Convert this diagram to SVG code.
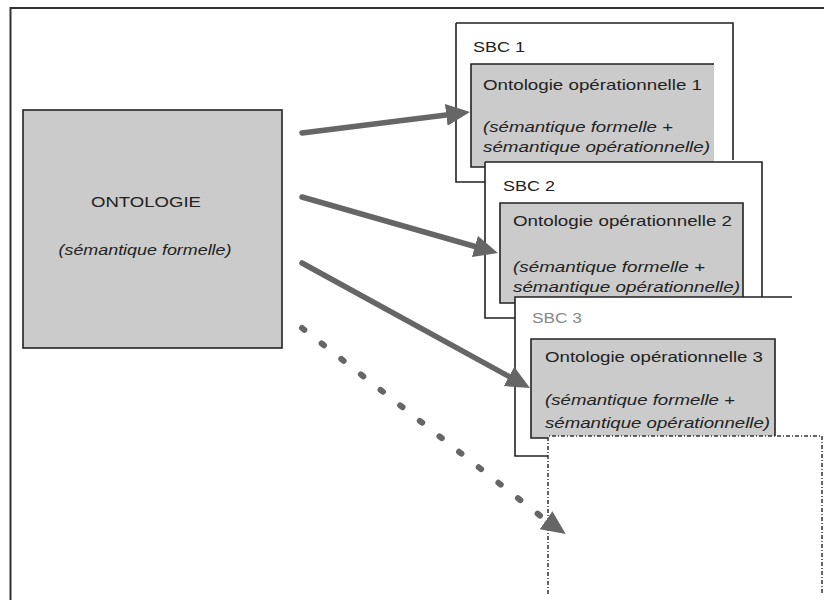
<svg xmlns="http://www.w3.org/2000/svg" width="824" height="600" viewBox="0 0 824 600">
<style>
  .frame{fill:none;stroke:#333;stroke-width:2}
  .box{fill:#fff;stroke:none}
  .edge{fill:none;stroke:#222;stroke-width:1.6}
  .gray{fill:#cbcbcb;stroke:none}
  .t{font-family:"Liberation Sans",Arial,sans-serif;font-size:15px;fill:#222}
  .i{font-style:italic}
  .arrow{fill:none;stroke:#666;stroke-width:5.5;stroke-linecap:round}
  .dots{fill:none;stroke:#666;stroke-width:6;stroke-linecap:round;stroke-dasharray:3 22}
  .dashbox{fill:#fff;stroke:#333;stroke-width:1.5;stroke-dasharray:4 2 1 2}
</style>
<defs>
  <marker id="head" viewBox="0 0 24 22" refX="2" refY="11" markerWidth="24" markerHeight="22" markerUnits="userSpaceOnUse" orient="auto">
    <path d="M0,0 L24,11 L0,22 z" fill="#666"/>
  </marker>
</defs>
<rect width="824" height="600" fill="#fff"/>
<path class="frame" d="M10.5,600 V8 H824"/>

<g id="ontologie">
  <rect x="23" y="110" width="259" height="238" fill="#cbcbcb" stroke="#222" stroke-width="1.6"/>
  <text class="t" x="146" y="207" text-anchor="middle" font-size="14" textLength="110" lengthAdjust="spacingAndGlyphs">ONTOLOGIE</text>
  <text class="t i" x="145" y="255" text-anchor="middle" font-size="14" textLength="173" lengthAdjust="spacingAndGlyphs">(sémantique formelle)</text>
</g>

<g id="sbc1">
  <rect class="box" x="456" y="23" width="277" height="159"/>
  <path class="edge" d="M456,23 H733 V160 M456,23 V182 H485"/>
  <rect class="gray" x="471" y="64" width="243" height="103"/>
  <path class="edge" d="M714,64 H471 V167 H485"/>
  <text class="t" x="473" y="52" textLength="52" lengthAdjust="spacingAndGlyphs">SBC 1</text>
  <text class="t" x="483" y="90" textLength="219" lengthAdjust="spacingAndGlyphs">Ontologie opérationnelle 1</text>
  <text class="t i" x="483" y="132" textLength="190" lengthAdjust="spacingAndGlyphs">(sémantique formelle +</text>
  <text class="t i" x="483" y="152" textLength="227" lengthAdjust="spacingAndGlyphs">sémantique opérationnelle)</text>
</g>

<g id="sbc2">
  <rect class="box" x="485" y="162" width="277" height="156"/>
  <path class="edge" d="M485,162 H762 V297 M485,162 V318 H515"/>
  <rect class="gray" x="500" y="203" width="243" height="100"/>
  <path class="edge" d="M515,303 H500 V203 H743 V297"/>
  <text class="t" x="503" y="191" textLength="52" lengthAdjust="spacingAndGlyphs">SBC 2</text>
  <text class="t" x="513" y="226" textLength="219" lengthAdjust="spacingAndGlyphs">Ontologie opérationnelle 2</text>
  <text class="t i" x="513" y="272" textLength="192" lengthAdjust="spacingAndGlyphs">(sémantique formelle +</text>
  <text class="t i" x="513" y="292" textLength="227" lengthAdjust="spacingAndGlyphs">sémantique opérationnelle)</text>
</g>

<g id="sbc3">
  <rect class="box" x="515" y="297" width="277" height="159"/>
  <path class="edge" d="M792,297 H515 V456 H548"/>
  <rect class="gray" x="531" y="339" width="244" height="99"/>
  <path class="edge" d="M548,438 H531 V339 H775 V436"/>
  <text class="t" x="532" y="323" style="fill:#888" textLength="50" lengthAdjust="spacingAndGlyphs">SBC 3</text>
  <text class="t" x="545" y="362" textLength="218" lengthAdjust="spacingAndGlyphs">Ontologie opérationnelle 3</text>
  <text class="t i" x="545" y="405" textLength="190" lengthAdjust="spacingAndGlyphs">(sémantique formelle +</text>
  <text class="t i" x="545" y="428" textLength="225" lengthAdjust="spacingAndGlyphs">sémantique opérationnelle)</text>
</g>

<g id="next">
  <path class="dashbox" d="M548,594 V436 H822 V594"/>
</g>

<g id="connectors">
  <line class="arrow" x1="302" y1="133" x2="448.2" y2="114.7" marker-end="url(#head)"/>
  <line class="arrow" x1="302" y1="197" x2="476.8" y2="247" marker-end="url(#head)"/>
  <line class="arrow" x1="302" y1="263" x2="510.7" y2="377.4" marker-end="url(#head)"/>
  <line class="dots" x1="302" y1="328" x2="545" y2="519.5"/>
  <line x1="545" y1="519.5" x2="547.7" y2="521.4" stroke="none" marker-end="url(#head)"/>
</g>
</svg>
